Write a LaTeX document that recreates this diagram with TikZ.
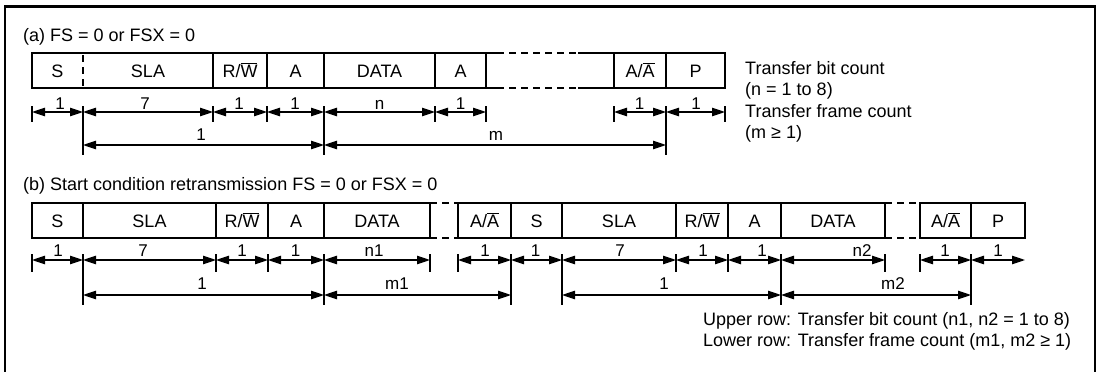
\documentclass[tikz,border=0pt]{standalone}
\usepackage{fontspec}
\setmainfont{Liberation Sans}
\usetikzlibrary{arrows.meta}
\newcommand{\ovl}[1]{$\overline{\hbox{#1}}$}
\begin{document}
\begin{tikzpicture}[x=1pt,y=-1pt,
  txt/.style={font=\fontsize{18}{21.5}\selectfont, inner sep=0pt, anchor=base},
  lefttxt/.style={txt, anchor=base west},
  lbl/.style={font=\fontsize{17}{20}\selectfont, inner sep=0pt, anchor=base},
  frameline/.style={line width=2.6pt},
  boxline/.style={line width=2.4pt, line join=miter},
  endline/.style={line width=1.6pt},
  divline/.style={line width=1.1pt},
  gapline/.style={line width=1.1pt, dash pattern=on 7pt off 5pt},
  dim/.style={line width=1.1pt, {Triangle[length=13pt,width=8.5pt]}-{Triangle[length=13pt,width=8.5pt]}},
  tickline/.style={line width=1.1pt},
]
\useasboundingbox (0,0) rectangle (1100,372);
\draw[frameline] (5,372) -- (5,6.5) -- (1095,6.5) -- (1095,372);

% ---------------- (a) ----------------
\node[lefttxt] (ta) at (23,41) {(a) FS = 0 or FSX = 0};
\draw[boxline] (497,53) -- (32,53) -- (32,88) -- (497,88);
\draw[gapline] (497,53) -- (578,53) (497,88) -- (578,88);
\draw[boxline] (578,53) -- (725,53) -- (725,88) -- (578,88);
\draw[divline, dash pattern=on 7pt off 5pt, dash phase=-2pt] (83,53) -- (83,88);
\foreach \x in {213,267,324,435,486,614,666} \draw[divline] (\x,53) -- (\x,88);

\node[txt] (aS)   at (57.5,77)  {S};
\node[txt] (aSLA) at (148,77)   {SLA};
\node[txt] (aRW)  at (240,77)   {R/\ovl{W}};
\node[txt] (aA1)  at (295.5,77) {A};
\node[txt] (aD)   at (379.5,77) {DATA};
\node[txt] (aA2)  at (460.5,77) {A};
\node[txt] (aAA)  at (640,77)   {A/\ovl{A}};
\node[txt] (aP)   at (695.5,77) {P};

\foreach \n/\x in {a0/32,a1/83,a2/213,a3/267,a4/324,a5/435,a6/486,a7/614,a8/666,a9/725}
  \coordinate (\n) at (\x,112);
\foreach \n/\x in {a1L/83,a4L/324,a8L/666}
  \coordinate (\n) at (\x,145);
\foreach \n in {a0,a2,a3,a5,a6,a7,a9}
  \draw[tickline] ([yshift=6pt]\n) -- ([yshift=-10pt]\n);
\foreach \n/\m in {a1/a1L,a4/a4L,a8/a8L}
  \draw[tickline] ([yshift=6pt]\n) -- ([yshift=-10pt]\m);
\foreach \p/\q in {a0/a1,a1/a2,a2/a3,a3/a4,a4/a5,a5/a6,a7/a8,a8/a9}
  \draw[dim] (\p) -- (\q);
\draw[dim] (a1L) -- (a4L);
\draw[dim] (a4L) -- (a8L);

\node[lbl] (la1) at (60,109)    {1};
\node[lbl] (la2) at (145,109)   {7};
\node[lbl] (la3) at (239,109)   {1};
\node[lbl] (la4) at (295,109)   {1};
\node[lbl] (la5) at (379.5,109) {n};
\node[lbl] (la6) at (460.5,109) {1};
\node[lbl] (la7) at (639.5,109) {1};
\node[lbl] (la8) at (696,109)   {1};
\node[lbl] (la9) at (201,140.5) {1};
\node[lbl] (la10) at (496,140.5) {m};

\node[lefttxt] (ra1) at (745,74)    {Transfer bit count};
\node[lefttxt] (ra2) at (745,95.5)  {(n = 1 to 8)};
\node[lefttxt] (ra3) at (745,117)   {Transfer frame count};
\node[lefttxt] (ra4) at (745,138.5) {(m ≥ 1)};

% ---------------- (b) ----------------
\node[lefttxt] (tb) at (23,190) {(b) Start condition retransmission FS = 0 or FSX = 0};
\draw[boxline] (430,203) -- (32,203) -- (32,238) -- (430,238);
\draw[endline] (430,203) -- (430,238);
\draw[gapline] (430,203) -- (458,203) (430,238) -- (458,238);
\draw[boxline] (885,203) -- (458,203) -- (458,238) -- (885,238);
\draw[endline] (885,203) -- (885,238);
\draw[gapline] (885,203) -- (920,203) (885,238) -- (920,238);
\draw[boxline] (920,203) rectangle (1025,238);
\foreach \x in {83,216,268,324,511,562,676,728,781,971} \draw[divline] (\x,203) -- (\x,238);

\node[txt] (bS)   at (57.5,227)  {S};
\node[txt] (bSLA) at (149.5,227) {SLA};
\node[txt] (bRW)  at (242,227)   {R/\ovl{W}};
\node[txt] (bA1)  at (296,227)   {A};
\node[txt] (bD)   at (377,227)   {DATA};
\node[txt] (bAA)  at (484.5,227) {A/\ovl{A}};
\node[txt] (bS2)  at (536.5,227) {S};
\node[txt] (bSLA2) at (619,227)  {SLA};
\node[txt] (bRW2) at (702,227)   {R/\ovl{W}};
\node[txt] (bA2)  at (754.5,227) {A};
\node[txt] (bD2)  at (833,227)   {DATA};
\node[txt] (bAA2) at (945.5,227) {A/\ovl{A}};
\node[txt] (bP)   at (998,227)   {P};

\foreach \n/\x in {b0/32,b1/83,b2/216,b3/268,b4/324,b5/430,b6/458,b7/511,b8/562,b9/676,b10/728,b11/781,b12/885,b13/920,b14/971,b15/1025}
  \coordinate (\n) at (\x,260);
\foreach \n/\x in {b1L/83,b4L/324,b7L/511,b8L/562,b11L/781,b14L/971}
  \coordinate (\n) at (\x,295);
\foreach \n in {b0,b2,b3,b5,b6,b9,b10,b12,b13}
  \draw[tickline] ([yshift=6pt]\n) -- ([yshift=-12pt]\n);
\foreach \n/\m in {b1/b1L,b4/b4L,b7/b7L,b8/b8L,b11/b11L,b14/b14L}
  \draw[tickline] ([yshift=6pt]\n) -- ([yshift=-10pt]\m);
\foreach \p/\q in {b0/b1,b1/b2,b2/b3,b3/b4,b4/b5,b6/b7,b7/b8,b8/b9,b9/b10,b10/b11,b11/b12,b13/b14,b14/b15}
  \draw[dim] (\p) -- (\q);
\foreach \p/\q in {b1L/b4L,b4L/b7L,b8L/b11L,b11L/b14L}
  \draw[dim] (\p) -- (\q);

\node[lbl] (lb1)  at (58,256.5)  {1};
\node[lbl] (lb2)  at (143,256.5) {7};
\node[lbl] (lb3)  at (242,256.5) {1};
\node[lbl] (lb4)  at (295.5,256.5) {1};
\node[lbl] (lb5)  at (374,256.5) {n1};
\node[lbl] (lb6)  at (485,256.5) {1};
\node[lbl] (lb7)  at (535.5,256.5) {1};
\node[lbl] (lb8)  at (620,256.5) {7};
\node[lbl] (lb9)  at (703,256.5) {1};
\node[lbl] (lb10) at (762,256.5) {1};
\node[lbl] (lb11) at (862,256.5) {n2};
\node[lbl] (lb12) at (945,256.5) {1};
\node[lbl] (lb13) at (998,256.5) {1};
\node[lbl] (lb14) at (202,289.5) {1};
\node[lbl] (lb15) at (397,289.5) {m1};
\node[lbl] (lb16) at (664,289.5) {1};
\node[lbl] (lb17) at (893,289.5) {m2};

\node[lefttxt] (rb1) at (703,325) {Upper row: Transfer bit count (n1, n2 = 1 to 8)};
\node[lefttxt] (rb2) at (703,346) {Lower row: Transfer frame count (m1, m2 ≥ 1)};
\end{tikzpicture}
\end{document}
